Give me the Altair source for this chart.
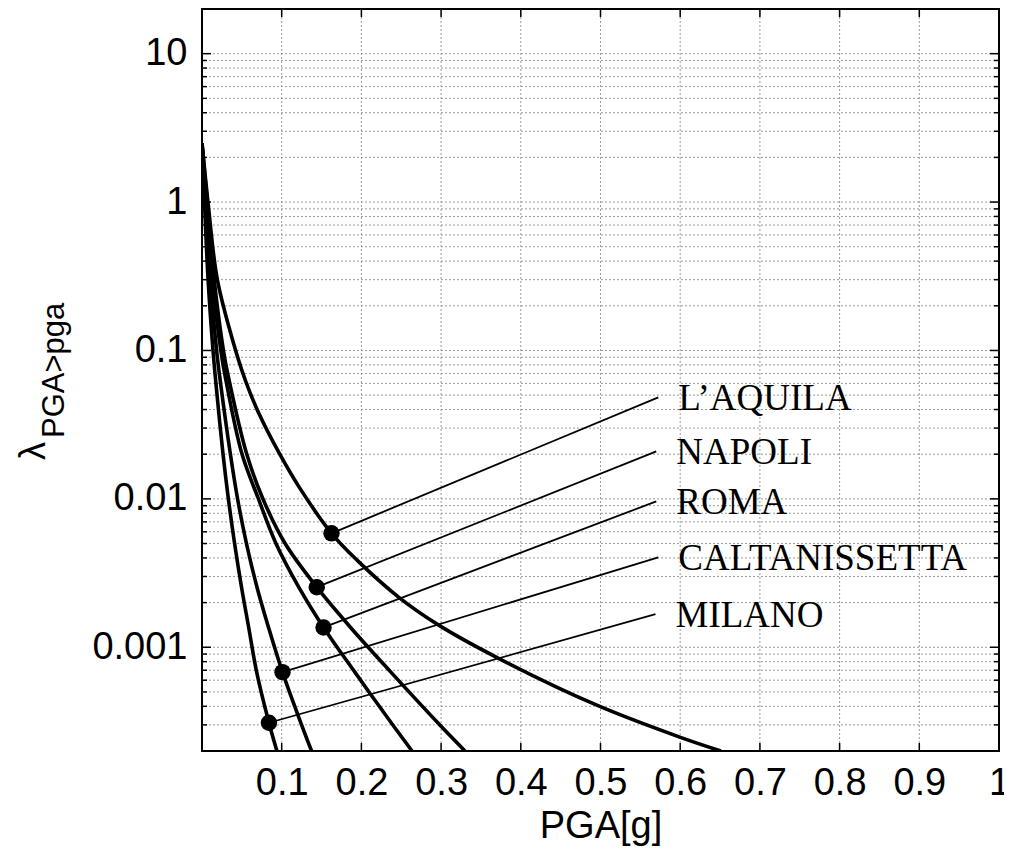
import altair as alt
import pandas as pd

# ---------------- data ----------------
cities = ["L’AQUILA", "NAPOLI", "ROMA", "CALTANISSETTA", "MILANO"]

aquila_pga = [0.0, 0.0075, 0.0188, 0.035, 0.0544, 0.0713, 0.0969, 0.1219, 0.1625, 0.1948, 0.247, 0.297, 0.372, 0.4954, 0.5994, 0.651]
aquila_lam = [2.48, 1.0, 0.31, 0.1364, 0.0628, 0.0377, 0.0203, 0.012, 0.00586, 0.00385, 0.00217, 0.00141, 0.000843, 0.000407, 0.000248, 0.0002]

napoli_pga = [0.0, 0.0066, 0.015, 0.0269, 0.034, 0.0559, 0.0761, 0.1043, 0.144, 0.1864, 0.237, 0.2958, 0.33]
napoli_lam = [2.48, 1.0, 0.31, 0.1, 0.063, 0.0202, 0.0101, 0.005, 0.00254, 0.00136, 0.00068, 0.00031, 0.0002]

roma_pga = [0.0, 0.0051, 0.0126, 0.0236, 0.03, 0.05, 0.0705, 0.0928, 0.1214, 0.1525, 0.1918, 0.2374, 0.2636]
roma_lam = [2.48, 1.0, 0.31, 0.1, 0.063, 0.0202, 0.0101, 0.005, 0.00254, 0.00136, 0.00068, 0.00031, 0.0002]

calt_pga = [0.0, 0.0044, 0.01, 0.0183, 0.0228, 0.0355, 0.0445, 0.0558, 0.069, 0.0835, 0.101, 0.124, 0.1375]
calt_lam = [2.48, 1.0, 0.31, 0.1, 0.063, 0.0202, 0.0101, 0.005, 0.00254, 0.00136, 0.00068, 0.00031, 0.0002]

milano_pga = [0.0, 0.0031, 0.0075, 0.0138, 0.0171, 0.0263, 0.033, 0.0409, 0.0496, 0.0586, 0.0686, 0.084, 0.094]
milano_lam = [2.48, 1.0, 0.31, 0.1, 0.063, 0.0202, 0.0101, 0.005, 0.00254, 0.00136, 0.00068, 0.00031, 0.0002]

# marked points on each curve and the end of their leader lines
dot_pga = [0.1625, 0.144, 0.1525, 0.101, 0.084]
dot_lam = [0.00586, 0.00254, 0.00136, 0.00068, 0.00031]
end_pga = [0.5725, 0.57, 0.57, 0.5725, 0.569]
end_lam = [0.0483, 0.0209, 0.00962, 0.00404, 0.00167]

x_ticks = [0.1, 0.2, 0.3, 0.4, 0.5, 0.6, 0.7, 0.8, 0.9, 1.0]
y_major = [0.001, 0.01, 0.1, 1, 10]
y_minor = [m * 10.0 ** k for k in range(-4, 2) for m in range(2, 10) if 0.0002 < m * 10.0 ** k < 20]

# ---------------- build tables ----------------
series = [
    (cities[0], aquila_pga, aquila_lam),
    (cities[1], napoli_pga, napoli_lam),
    (cities[2], roma_pga, roma_lam),
    (cities[3], calt_pga, calt_lam),
    (cities[4], milano_pga, milano_lam),
]
rows = []
for name, xs, ys in series:
    for i, (a, b) in enumerate(zip(xs, ys)):
        rows.append({"city": name, "pga": a, "lam": b, "i": i})
curves = pd.DataFrame(rows)

marks = pd.DataFrame({"city": cities, "pga": dot_pga, "lam": dot_lam,
                      "pga2": end_pga, "lam2": end_lam})
ygrid = pd.DataFrame({"v": y_major + y_minor})
xgrid = pd.DataFrame({"v": x_ticks[:-1]})
ymaj = pd.DataFrame({"v": y_major})
ymin = pd.DataFrame({"v": y_minor})
xtk = pd.DataFrame({"v": x_ticks[:-1]})

W, H = 797, 742
FONT = "Liberation Sans"

xscale = alt.Scale(domain=[0, 1], nice=False, zero=False)
yscale = alt.Scale(type="log", domain=[0.0002, 20], nice=False)

xaxis = alt.Axis(values=x_ticks, format="~g", ticks=False, tickSize=0, domain=False, grid=False,
                 labelFont=FONT, labelFontSize=38, labelColor="black", labelPadding=13,
                 labelFlush=False, labelOverlap=False, labelBound=False,
                 title="PGA[g]", titleFont=FONT, titleFontSize=38, titleFontWeight="normal",
                 titleColor="black", titlePadding=5)
yaxis = alt.Axis(values=y_major, format="~g", ticks=False, tickSize=0, domain=False, grid=False,
                 labelFont=FONT, labelFontSize=38, labelColor="black", labelPadding=15,
                 labelOverlap=False, labelFlush=False, title=None)


def X(field):
    return alt.X(field, scale=xscale, axis=xaxis, title="PGA[g]")


def Y(field):
    return alt.Y(field, scale=yscale, axis=yaxis, title=None)


grid_style = dict(color="#9a9a9a", strokeWidth=1, strokeDash=[2, 2])

ygrid_layer = alt.Chart(ygrid).mark_rule(**grid_style).encode(y=Y("v:Q"))
xgrid_layer = alt.Chart(xgrid).mark_rule(**grid_style).encode(x=X("v:Q"))

curve_layer = alt.Chart(curves).mark_line(
    color="black", strokeWidth=3.6, interpolate="catmull-rom", clip=True
).encode(
    x=X("pga:Q"),
    y=Y("lam:Q"),
    detail="city:N",
    order=alt.Order("i:Q"),
)

leader_layer = alt.Chart(marks).mark_rule(color="black", strokeWidth=1.8).encode(
    x=X("pga:Q"), x2="pga2:Q", y=Y("lam:Q"), y2="lam2:Q")

dot_layer = alt.Chart(marks).mark_circle(color="black", size=270, opacity=1).encode(
    x=X("pga:Q"), y=Y("lam:Q"))

label_layer = alt.Chart(marks).mark_text(
    font="Liberation Serif", fontSize=37, color="black", align="left",
    baseline="alphabetic", dx=20, dy=13
).encode(x=X("pga2:Q"), y=Y("lam2:Q"), text="city:N")

tick_style = dict(color="black", strokeWidth=1.5)
tl_maj = alt.Chart(ymaj).mark_rule(**tick_style).encode(
    y=Y("v:Q"), x=alt.value(0), x2=alt.value(9))
tl_min = alt.Chart(ymin).mark_rule(**tick_style).encode(
    y=Y("v:Q"), x=alt.value(0), x2=alt.value(5))
tr_maj = alt.Chart(ymaj).mark_rule(**tick_style).encode(
    y=Y("v:Q"), x=alt.value(W), x2=alt.value(W - 9))
tr_min = alt.Chart(ymin).mark_rule(**tick_style).encode(
    y=Y("v:Q"), x=alt.value(W), x2=alt.value(W - 5))
tb = alt.Chart(xtk).mark_rule(**tick_style).encode(
    x=X("v:Q"), y=alt.value(H), y2=alt.value(H - 8))
tt = alt.Chart(xtk).mark_rule(**tick_style).encode(
    x=X("v:Q"), y=alt.value(0), y2=alt.value(8))

ttl_main = alt.Chart(pd.DataFrame({"t": ["λ"]})).mark_text(
    font=FONT, fontSize=36, color="black", angle=270, align="left", baseline="alphabetic"
).encode(x=alt.value(-157), y=alt.value(451), text="t:N")
ttl_sub = alt.Chart(pd.DataFrame({"t": ["PGA>pga"]})).mark_text(
    font=FONT, fontSize=31, color="black", angle=270, align="left", baseline="alphabetic"
).encode(x=alt.value(-138), y=alt.value(429), text="t:N")

chart = alt.layer(
    ygrid_layer, xgrid_layer, curve_layer, leader_layer, dot_layer, label_layer,
    tl_maj, tl_min, tr_maj, tr_min, tb, tt, ttl_main, ttl_sub
).properties(
    width=W, height=H,
    autosize=alt.AutoSizeParams(type="none"),
    padding={"left": 194, "top": 1, "right": 5, "bottom": 100},
).configure_view(stroke="black", strokeWidth=2)

chart.save("out.html", embed_options={"renderer": "svg", "actions": False})
